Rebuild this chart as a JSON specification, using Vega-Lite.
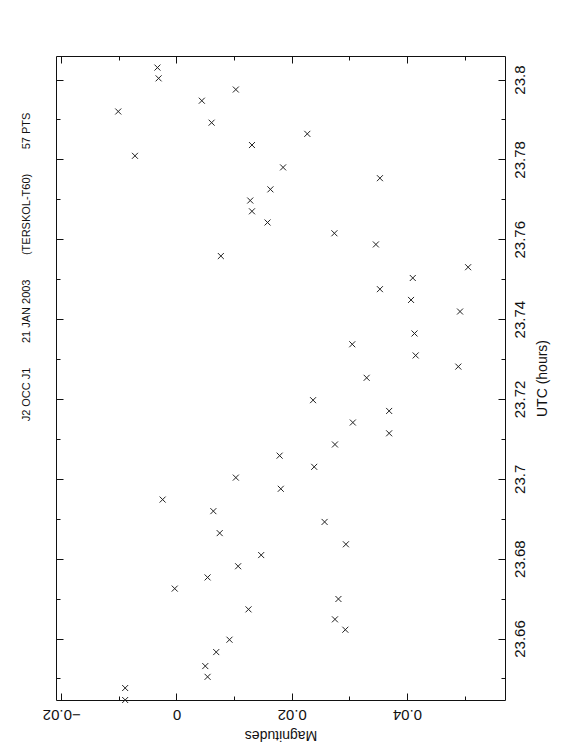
{
  "$schema": "https://vega.github.io/schema/vega-lite/v6.json",
  "width": 449,
  "height": 644,
  "autosize": "none",
  "padding": {"left": 56, "top": 56, "right": 57, "bottom": 56},
  "background": "white",
  "config": {
    "view": {"stroke": "#111", "strokeWidth": 1},
    "font": "Liberation Sans",
    "axis": {"grid": false, "domain": false, "tickColor": "#111", "tickWidth": 1, "labelColor": "#111", "titleColor": "#111", "labelFont": "Liberation Sans", "titleFont": "Liberation Sans", "labelFontSize": 15, "titleFontSize": 14, "titleFontWeight": "normal"}
  },
  "title": {
    "text": "J2 OCC J1\u00a0\u00a0\u00a0\u00a0\u00a0\u00a0\u00a0\u00a021 JAN 2003\u00a0\u00a0\u00a0\u00a0\u00a0\u00a0\u00a0\u00a0(TERSKOL-T60)\u00a0\u00a0\u00a0\u00a0\u00a0\u00a0\u00a0\u00a057 PTS",
    "orient": "left",
    "anchor": "middle",
    "fontSize": 11,
    "fontWeight": "normal",
    "font": "Liberation Sans",
    "color": "#111",
    "offset": 10,
    "dx": 111
  },
  "data": {
    "values": [
      {"utc": 23.8030, "mag": -0.0033},
      {"utc": 23.8003, "mag": -0.0031},
      {"utc": 23.7975, "mag": 0.0103},
      {"utc": 23.7947, "mag": 0.0044},
      {"utc": 23.7920, "mag": -0.0101},
      {"utc": 23.7892, "mag": 0.0061},
      {"utc": 23.7864, "mag": 0.0227},
      {"utc": 23.7836, "mag": 0.0131},
      {"utc": 23.7809, "mag": -0.0072},
      {"utc": 23.7780, "mag": 0.0185},
      {"utc": 23.7753, "mag": 0.0353},
      {"utc": 23.7725, "mag": 0.0163},
      {"utc": 23.7697, "mag": 0.0128},
      {"utc": 23.7670, "mag": 0.0131},
      {"utc": 23.7642, "mag": 0.0158},
      {"utc": 23.7615, "mag": 0.0274},
      {"utc": 23.7587, "mag": 0.0346},
      {"utc": 23.7558, "mag": 0.0077},
      {"utc": 23.7530, "mag": 0.0506},
      {"utc": 23.7503, "mag": 0.0410},
      {"utc": 23.7475, "mag": 0.0353},
      {"utc": 23.7448, "mag": 0.0407},
      {"utc": 23.7419, "mag": 0.0492},
      {"utc": 23.7364, "mag": 0.0413},
      {"utc": 23.7337, "mag": 0.0305},
      {"utc": 23.7309, "mag": 0.0415},
      {"utc": 23.7281, "mag": 0.0489},
      {"utc": 23.7253, "mag": 0.0330},
      {"utc": 23.7197, "mag": 0.0237},
      {"utc": 23.7170, "mag": 0.0369},
      {"utc": 23.7141, "mag": 0.0306},
      {"utc": 23.7114, "mag": 0.0369},
      {"utc": 23.7086, "mag": 0.0275},
      {"utc": 23.7058, "mag": 0.0179},
      {"utc": 23.7030, "mag": 0.0239},
      {"utc": 23.7003, "mag": 0.0103},
      {"utc": 23.6975, "mag": 0.0181},
      {"utc": 23.6948, "mag": -0.0024},
      {"utc": 23.6919, "mag": 0.0064},
      {"utc": 23.6892, "mag": 0.0257},
      {"utc": 23.6864, "mag": 0.0075},
      {"utc": 23.6836, "mag": 0.0294},
      {"utc": 23.6809, "mag": 0.0147},
      {"utc": 23.6781, "mag": 0.0107},
      {"utc": 23.6753, "mag": 0.0054},
      {"utc": 23.6725, "mag": -0.0003},
      {"utc": 23.6699, "mag": 0.0281},
      {"utc": 23.6673, "mag": 0.0125},
      {"utc": 23.6648, "mag": 0.0275},
      {"utc": 23.6622, "mag": 0.0293},
      {"utc": 23.6597, "mag": 0.0092},
      {"utc": 23.6566, "mag": 0.0069},
      {"utc": 23.6531, "mag": 0.0050},
      {"utc": 23.6504, "mag": 0.0054},
      {"utc": 23.6476, "mag": -0.0089},
      {"utc": 23.6446, "mag": -0.0089}
    ]
  },
  "layer": [
    {
      "mark": {"type": "point", "opacity": 0},
      "encoding": {
        "x": {"field": "mag", "type": "quantitative", "scale": {"domain": [-0.0209, 0.0570], "nice": false, "zero": false},
              "axis": {"orient": "bottom", "offset": -7, "tickSize": 7, "values": [-0.02, 0, 0.02, 0.04], "labels": false, "title": null}},
        "y": {"field": "utc", "type": "quantitative", "scale": {"domain": [23.6446, 23.8059], "nice": false, "zero": false},
              "axis": {"orient": "left", "offset": -7, "tickSize": 7, "values": [23.66, 23.68, 23.7, 23.72, 23.74, 23.76, 23.78, 23.8], "labels": false, "title": null}}
      }
    },
    {
      "mark": {"type": "point", "opacity": 0},
      "encoding": {
        "x": {"field": "mag", "type": "quantitative",
              "axis": {"orient": "bottom", "offset": -4, "tickSize": 4, "values": [-0.01, 0.01, 0.03, 0.05], "labels": false, "title": null}},
        "y": {"field": "utc", "type": "quantitative",
              "axis": {"orient": "left", "offset": -4, "tickSize": 4, "values": [23.65, 23.67, 23.69, 23.71, 23.73, 23.75, 23.77, 23.79], "labels": false, "title": null}}
      }
    },
    {
      "mark": {"type": "point", "opacity": 0},
      "encoding": {
        "x": {"field": "mag", "type": "quantitative",
              "axis": {"orient": "top", "offset": -7, "tickSize": 7, "values": [-0.02, 0, 0.02, 0.04], "labels": false, "title": null}},
        "y": {"field": "utc", "type": "quantitative",
              "axis": {"orient": "right", "offset": -7, "tickSize": 7, "values": [23.66, 23.68, 23.7, 23.72, 23.74, 23.76, 23.78, 23.8], "labels": false, "title": null}}
      }
    },
    {
      "mark": {"type": "point", "opacity": 0},
      "encoding": {
        "x": {"field": "mag", "type": "quantitative",
              "axis": {"orient": "top", "offset": -4, "tickSize": 4, "values": [-0.01, 0.01, 0.03, 0.05], "labels": false, "title": null}},
        "y": {"field": "utc", "type": "quantitative",
              "axis": {"orient": "right", "offset": -4, "tickSize": 4, "values": [23.65, 23.67, 23.69, 23.71, 23.73, 23.75, 23.77, 23.79], "labels": false, "title": null}}
      }
    },
    {
      "mark": {"type": "point", "shape": "M-1,-1L1,1M-1,1L1,-1", "size": 36, "filled": false, "stroke": "#222", "strokeWidth": 1, "opacity": 1},
      "encoding": {
        "x": {"field": "mag", "type": "quantitative",
              "axis": {"orient": "bottom", "ticks": false, "tickSize": 0, "values": [-0.02, 0, 0.02, 0.04], "format": ".2~f",
                       "labelAngle": 180, "labelAlign": "center", "labelBaseline": "middle", "labelPadding": 14,
                       "title": "Magnitudes", "titleAngle": 180, "titleBaseline": "middle", "titleY": 34}},
        "y": {"field": "utc", "type": "quantitative",
              "axis": {"orient": "right", "ticks": false, "tickSize": 0, "values": [23.66, 23.68, 23.7, 23.72, 23.74, 23.76, 23.78, 23.8], "format": ".2~f",
                       "labelAngle": -90, "labelAlign": "center", "labelBaseline": "middle", "labelPadding": 14,
                       "title": "UTC (hours)", "titleAngle": -90, "titleBaseline": "middle", "titleX": 37}}
      }
    }
  ],
  "resolve": {"axis": {"x": "independent", "y": "independent"}}
}
